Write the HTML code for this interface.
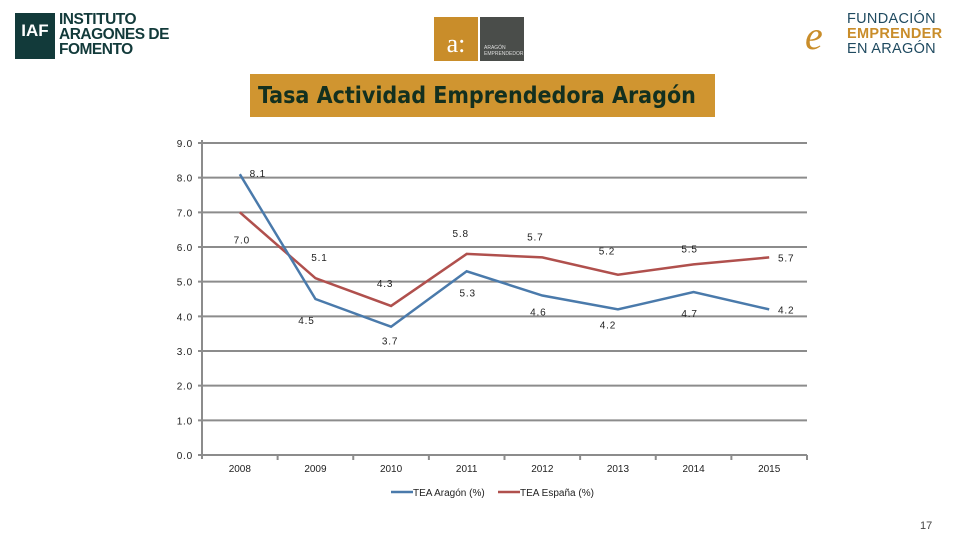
<!DOCTYPE html>
<html><head><meta charset="utf-8">
<style>
body{margin:0;width:960px;height:540px;background:#fff;overflow:hidden;font-family:"Liberation Sans",sans-serif;position:relative}
.abs{position:absolute}
</style></head><body>
<div class="abs" style="left:15px;top:13px;width:165px;height:46px">
  <div class="abs" style="left:0;top:0;width:40px;height:46px;background:#123a3a;color:#fff;font-weight:bold;font-size:17px;line-height:36px;text-align:center">IAF</div>
  <div class="abs" style="left:44px;top:-1px;font-weight:bold;font-size:15.5px;line-height:15px;color:#123a3a;letter-spacing:-0.5px">INSTITUTO<br>ARAGONES DE<br>FOMENTO</div>
</div>
<div class="abs" style="left:434px;top:17px;width:90px;height:44px">
  <div class="abs" style="left:0;top:0;width:44px;height:44px;background:#c98d2a;color:#fff;font-family:'Liberation Serif',serif;font-size:26px;line-height:54px;text-align:center">a:</div>
  <div class="abs" style="left:46px;top:0;width:44px;height:44px;background:#4a4d4a;color:#ddd;font-size:5px;line-height:6px;padding:28px 0 0 4px;box-sizing:border-box">ARAGÓN<br>EMPRENDEDOR</div>
</div>
<div class="abs" style="left:805px;top:12px;width:140px;height:50px">
  <div class="abs" style="left:0;top:2px;font-family:'Liberation Serif',serif;font-style:italic;font-size:40px;color:#c98d2a;line-height:44px">e</div>
  <div class="abs" style="left:42px;top:0;font-size:14.5px;line-height:15px;color:#1f4a60;letter-spacing:0.3px">FUNDACIÓN<br><b style="color:#c98d2a">EMPRENDER</b><br>EN ARAGÓN</div>
</div>
<div class="abs" style="left:250px;top:74px;width:465px;height:43px;background:#d09530;color:#13301f;font-weight:bold;font-size:23px;line-height:45px;padding-left:8px;box-sizing:border-box;font-family:'DejaVu Sans Condensed','Liberation Sans',sans-serif">Tasa Actividad Emprendedora Aragón</div>
<svg class="abs" style="left:0;top:0" width="960" height="540" id="chart"></svg>
<div class="abs" style="left:920px;top:520px;font-size:11px;color:#444">17</div>
<script>
const categories=["2008","2009","2010","2011","2012","2013","2014","2015"];
const aragon=[8.1,4.5,3.7,5.3,4.6,4.2,4.7,4.2];
const espana=[7.0,5.1,4.3,5.8,5.7,5.2,5.5,5.7];
const yTicks=[0,1,2,3,4,5,6,7,8,9];
const aragonLabelOff=[[18,-1],[-9,21],[-1,14],[1,21],[-4,16],[-10,15],[-4,21],[17,0]];
const espanaLabelOff=[[2,27],[4,-21],[-6,-23],[-6,-21],[-7,-21],[-11,-24],[-4,-16],[17,0]];
const svg=document.getElementById('chart');
const NS='http://www.w3.org/2000/svg';
const X0=202,X1=807,Y0=455,Y9=143;
const y=v=>Y0+(Y9-Y0)*v/9;
const bw=(X1-X0)/categories.length;
const x=i=>X0+bw*(i+0.5);
function mk(t,a){const e=document.createElementNS(NS,t);for(const k in a)e.setAttribute(k,a[k]);svg.appendChild(e);return e;}
yTicks.forEach(v=>{
  const g=mk('line',{x1:X0-4,x2:X1,y1:y(v),y2:y(v),stroke:'#8c8c8c','stroke-width':2});
  
  
  const t=mk('text',{x:X0-9,y:y(v)+4,'text-anchor':'end','font-size':10,'letter-spacing':0.8,fill:'#222'});
  t.textContent=v.toFixed(1);
  
  
});
const ax=mk('line',{x1:X0,x2:X0,y1:Y9-3,y2:Y0+4,stroke:'#8c8c8c','stroke-width':2});


categories.forEach((c,i)=>{
  const tk=mk('line',{x1:X0+bw*(i+1),x2:X0+bw*(i+1),y1:Y0,y2:Y0+5,stroke:'#8c8c8c','stroke-width':2});
  
  
  const t=mk('text',{x:x(i),y:Y0+17,'text-anchor':'middle','font-size':10,fill:'#222'});
  t.textContent=c;
  
  
});
function series(vals,color,name,offs){
  const p=mk('polyline',{points:vals.map((v,i)=>x(i)+','+y(v)).join(' '),fill:'none',stroke:color,'stroke-width':2.5});
  
  
  vals.forEach((v,i)=>{
    const t=mk('text',{x:x(i)+offs[i][0],y:y(v)+offs[i][1]+4,'text-anchor':'middle','font-size':10,'letter-spacing':0.8,fill:'#222'});
    t.textContent=v.toFixed(1);
    
    
  });
}
series(espana,'#b0504d','tea-espana',espanaLabelOff);
series(aragon,'#4a7aab','tea-aragon',aragonLabelOff);
[['#4a7aab','TEA Aragón (%)',391],['#b0504d','TEA España (%)',498]].forEach(([c,l,lx],k)=>{
  const ln=mk('line',{x1:lx,x2:lx+22,y1:492,y2:492,stroke:c,'stroke-width':2.5});
  
  
  const t=mk('text',{x:lx+22,y:496,'font-size':10,fill:'#222'});
  t.textContent=l;
  
  
});
</script>
</body></html>
